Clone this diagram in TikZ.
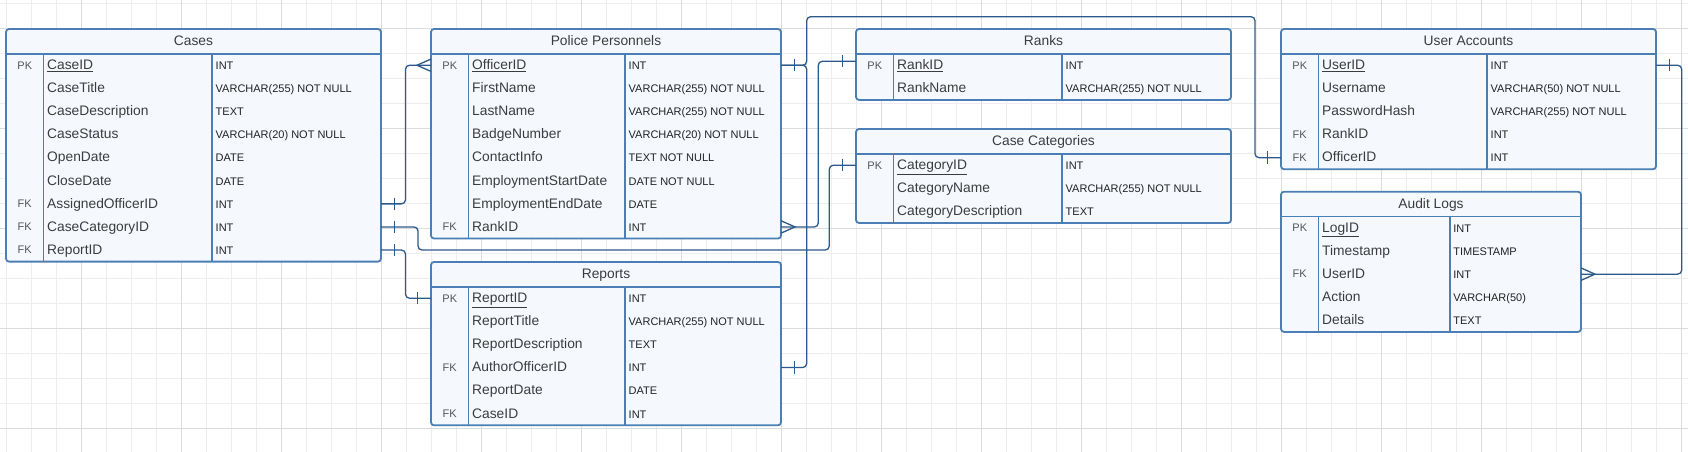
\documentclass[tikz,border=0pt]{standalone}
\usepackage{fontspec}
\setmainfont{Liberation Sans}
\definecolor{erline}{HTML}{4A7EB4}
\definecolor{erfill}{HTML}{F5F9FE}
\definecolor{erconn}{HTML}{2D5A8C}
\definecolor{ername}{HTML}{3C3C3C}
\definecolor{ertype}{HTML}{222222}
\definecolor{erkey}{HTML}{555555}
\definecolor{gridlo}{HTML}{EDEDED}
\definecolor{gridhi}{HTML}{DCDCDC}
\tikzset{
  tblbox/.style={draw=erline, fill=erfill, line width=1.8pt, rounded corners=3pt, inner sep=0pt, outer sep=0pt},
  tblline/.style={erline, line width=1.8pt},
  rowbox/.style={inner sep=0pt, outer sep=0pt, minimum height=23.1pt},
  hdrtext/.style={anchor=base, inner sep=0pt, text=ername, font=\fontsize{13.8}{16}\selectfont},
  nametext/.style={anchor=base west, inner sep=0pt, text=ername, font=\fontsize{13.8}{16}\selectfont},
  typetext/.style={anchor=base west, inner sep=0pt, text=ertype, font=\fontsize{11}{13}\selectfont},
  keytext/.style={anchor=base, inner sep=0pt, text=erkey, font=\fontsize{11}{13}\selectfont},
  conn/.style={draw=erconn, line width=1.3pt, rounded corners=4pt},
  gridminor/.style={gridlo, line width=1pt},
  gridmajor/.style={gridhi, line width=1pt},
  onemark/.pic={\draw[erconn, line width=1.3pt] (13.5,-6.2) -- (13.5,6.2);},
  manymark/.pic={\draw[erconn, line width=1.3pt] (0,-6.2) -- (14,0) -- (0,6.2);},
}
\newcommand{\ertable}[8]{%
  \pgfmathsetmacro{\tblh}{24.7+23.1*#6}
  \node[tblbox, anchor=north west, minimum width=#4, minimum height=\tblh] (#1) at (#2,#3) {};
  \draw[tblline] ([yshift=-24.7pt]#1.north west) -- ([yshift=-24.7pt]#1.north east);
  \draw[tblline] ([xshift=37.5pt,yshift=-24.7pt]#1.north west) -- ([xshift=37.5pt]#1.south west);
  \draw[tblline] ([xshift=#5pt,yshift=-24.7pt]#1.north west) -- ([xshift=#5pt]#1.south west);
  \node[hdrtext] at ([yshift=-16.4pt]#1.north) {#7};
  \foreach \fkey/\fname/\ftype [count=\i] in {#8} {
    \node[rowbox, minimum width=#4] (#1-\i) at ({#2+#4/2},{#3+13.15+23.1*\i}) {};
    \node[keytext] at ([xshift=18.75pt,yshift=-3.8pt]#1-\i.west) {\fkey};
    \node[nametext] at ([xshift=41pt,yshift=-4.3pt]#1-\i.west) {\fname};
    \node[typetext] at ([xshift=#5pt+3.5pt,yshift=-4.3pt]#1-\i.west) {\ftype};
  }
}
\begin{document}
\begin{tikzpicture}[x=1pt, y=-1pt]
\useasboundingbox (0,0) rectangle (1688,452);
\fill[white] (0,0) rectangle (1688,452);
\foreach \gx in {6.7,31.7,...,1688} \draw[gridminor] (\gx,0) -- (\gx,452);
\foreach \gy in {3.3,28.3,...,452} \draw[gridminor] (0,\gy) -- (1688,\gy);
\foreach \gx in {81.7,181.7,...,1688} \draw[gridmajor] (\gx,0) -- (\gx,452);
\foreach \gy in {28.3,128.3,...,452} \draw[gridmajor] (0,\gy) -- (1688,\gy);

\ertable{cases}{6}{29}{375}{206}{9}{Cases}{PK/\underline{CaseID}/INT, /CaseTitle/VARCHAR(255) NOT NULL, /CaseDescription/TEXT, /CaseStatus/VARCHAR(20) NOT NULL, /OpenDate/DATE, /CloseDate/DATE, FK/AssignedOfficerID/INT, FK/CaseCategoryID/INT, FK/ReportID/INT}
\ertable{pp}{431}{29}{350}{194}{8}{Police Personnels}{PK/\underline{OfficerID}/INT, /FirstName/VARCHAR(255) NOT NULL, /LastName/VARCHAR(255) NOT NULL, /BadgeNumber/VARCHAR(20) NOT NULL, /ContactInfo/TEXT NOT NULL, /EmploymentStartDate/DATE NOT NULL, /EmploymentEndDate/DATE, FK/RankID/INT}
\ertable{rep}{431}{262}{350}{194}{6}{Reports}{PK/\underline{ReportID}/INT, /ReportTitle/VARCHAR(255) NOT NULL, /ReportDescription/TEXT, FK/AuthorOfficerID/INT, /ReportDate/DATE, FK/CaseID/INT}
\ertable{rank}{856}{29}{375}{206}{2}{Ranks}{PK/\underline{RankID}/INT, /RankName/VARCHAR(255) NOT NULL}
\ertable{cat}{856}{129}{375}{206}{3}{Case Categories}{PK/\underline{CategoryID}/INT, /CategoryName/VARCHAR(255) NOT NULL, /CategoryDescription/TEXT}
\ertable{ua}{1281}{29}{375}{206}{5}{User Accounts}{PK/\underline{UserID}/INT, /Username/VARCHAR(50) NOT NULL, /PasswordHash/VARCHAR(255) NOT NULL, FK/RankID/INT, FK/OfficerID/INT}
\ertable{audit}{1281}{191.7}{300}{168.7}{5}{Audit Logs}{PK/\underline{LogID}/INT, /Timestamp/TIMESTAMP, FK/UserID/INT, /Action/VARCHAR(50), /Details/TEXT}

\coordinate (catlane) at (418,250);
\coordinate (toplane) at (806.7,16.7);
\draw[conn] (cases-7.east) -| ([xshift=-25.5pt]pp-1.west) -- (pp-1.west);
\draw[conn] (cases-8.east) -| (catlane) -| ([xshift=-26.7pt]cat-1.west) -- (cat-1.west);
\draw[conn] (cases-9.east) -| ([xshift=-25.5pt]rep-1.west) -- (rep-1.west);
\draw[conn] (pp-8.east) -| ([xshift=-37.7pt,yshift=4pt]rank-1.west) -- ([yshift=4pt]rank-1.west);
\draw[conn] (pp-1.east) -| (toplane) -| ([xshift=-26pt]ua-5.west) -- (ua-5.west);
\draw[conn] (rep-4.east) -| ([xshift=25.7pt]pp-1.east) -- (pp-1.east);
\draw[conn] (ua-1.east) -| ([xshift=100.7pt]audit-3.east) -- (audit-3.east);
\pic at (cases-7.east) {onemark};
\pic[xscale=-1] at (pp-1.west) {manymark};
\pic at (cases-8.east) {onemark};
\pic[xscale=-1] at (cat-1.west) {onemark};
\pic at (cases-9.east) {onemark};
\pic[xscale=-1] at (rep-1.west) {onemark};
\pic at (pp-8.east) {manymark};
\pic[xscale=-1] at ([yshift=4pt]rank-1.west) {onemark};
\pic at (pp-1.east) {onemark};
\pic[xscale=-1] at (ua-5.west) {onemark};
\pic at (rep-4.east) {onemark};
\pic at (ua-1.east) {onemark};
\pic at (audit-3.east) {manymark};
\end{tikzpicture}
\end{document}
